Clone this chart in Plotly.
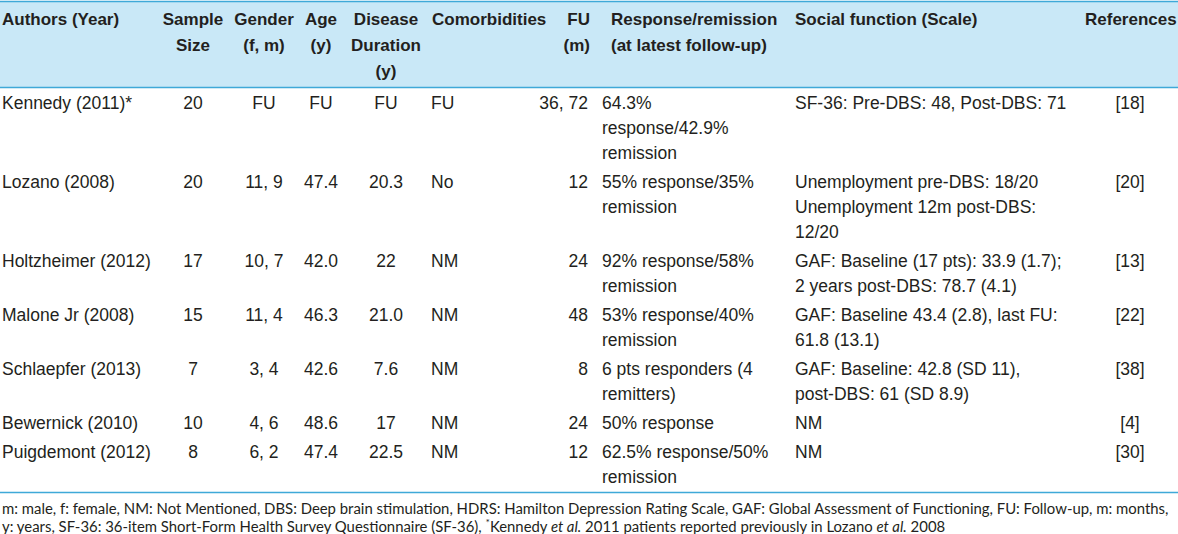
import plotly.graph_objects as go

# ---- data ----
header_labels = [
    "Authors (Year)", "Sample<br>Size", "Gender<br>(f, m)", "Age<br>(y)",
    "Disease<br>Duration<br>(y)", "Comorbidities", "FU<br>(m)",
    "Response/remission<br>(at latest follow-up)", "Social function (Scale)", "References",
]
authors = ["Kennedy (2011)*", "Lozano (2008)", "Holtzheimer (2012)", "Malone Jr (2008)",
           "Schlaepfer (2013)", "Bewernick (2010)", "Puigdemont (2012)"]
sample_size = ["20", "20", "17", "15", "7", "10", "8"]
gender = ["FU", "11, 9", "10, 7", "11, 4", "3, 4", "4, 6", "6, 2"]
age = ["FU", "47.4", "42.0", "46.3", "42.6", "48.6", "47.4"]
duration = ["FU", "20.3", "22", "21.0", "7.6", "17", "22.5"]
comorbidities = ["FU", "No", "NM", "NM", "NM", "NM", "NM"]
follow_up = ["36, 72", "12", "24", "48", "8", "24", "12"]
response = [
    "64.3%<br>response/42.9%<br>remission",
    "55% response/35%<br>remission",
    "92% response/58%<br>remission",
    "53% response/40%<br>remission",
    "6 pts responders (4<br>remitters)",
    "50% response",
    "62.5% response/50%<br>remission",
]
social = [
    "SF-36: Pre-DBS: 48, Post-DBS: 71",
    "Unemployment pre-DBS: 18/20<br>Unemployment 12m post-DBS:<br>12/20",
    "GAF: Baseline (17 pts): 33.9 (1.7);<br>2 years post-DBS: 78.7 (4.1)",
    "GAF: Baseline 43.4 (2.8), last FU:<br>61.8 (13.1)",
    "GAF: Baseline: 42.8 (SD 11),<br>post-DBS: 61 (SD 8.9)",
    "NM",
    "NM",
]
references = ["[18]", "[20]", "[13]", "[22]", "[38]", "[4]", "[30]"]
footnote_lines = [
    "m: male, f: female, NM: Not Mentioned, DBS: Deep brain stimulation, HDRS: Hamilton Depression "
    "Rating Scale, GAF: Global Assessment of Functioning, FU: Follow-up, m: months,",
    "y: years, SF-36: 36-item Short-Form Health Survey Questionnaire (SF-36), <sup>*</sup>Kennedy "
    "<i>et al.</i> 2011 patients reported previously in Lozano <i>et al.</i> 2008",
]

columns = [authors, sample_size, gender, age, duration, comorbidities,
           follow_up, response, social, references]

# ---- layout / styling (pixel geometry of the table) ----
W, H = 1178, 534
HEAD_FILL = "#c9e8f7"
BLUE = "#3fa9d8"
TXT = "#231f20"
FONT = "Liberation Sans, Arial, sans-serif"
head_x = [2, 193, 264, 321, 386, 432, 590, 611, 795, 1085]
head_pos = ["middle right", "middle center", "middle center", "middle center", "middle center",
            "middle right", "middle left", "middle right", "middle right", "middle right"]
body_x = [2, 193, 264, 321, 386, 431, 588, 602, 795, 1130]
body_pos = ["middle right", "middle center", "middle center", "middle center", "middle center",
            "middle right", "middle left", "middle right", "middle right", "middle center"]
HEAD_Y0, HEAD_LH = 20.5, 26
BODY_Y0, BODY_LH, ROW_PAD = 105, 25, 4
LINE_TOP, LINE_HEAD, LINE_BOTTOM = 1.5, 87.5, 492.5

fig = go.Figure()

# header text
for lbl, x, pos in zip(header_labels, head_x, head_pos):
    lines = lbl.split("<br>")
    fig.add_trace(go.Scatter(
        x=[x] * len(lines), y=[HEAD_Y0 + j * HEAD_LH for j in range(len(lines))],
        text=[f"<b>{t}</b>" for t in lines], mode="text", textposition=pos,
        textfont=dict(family=FONT, size=17, color=TXT),
        hoverinfo="skip", showlegend=False, cliponaxis=False,
    ))

# row first-line positions from line counts
n_rows = len(authors)
row_lines = [max(len(col[r].split("<br>")) for col in columns) for r in range(n_rows)]
row_y = []
y = BODY_Y0
for n in row_lines:
    row_y.append(y)
    y += n * BODY_LH + ROW_PAD

# body text
for col, x, pos in zip(columns, body_x, body_pos):
    xs, ys, ts = [], [], []
    for r, cell in enumerate(col):
        for j, t in enumerate(cell.split("<br>")):
            xs.append(x)
            ys.append(row_y[r] + j * BODY_LH)
            ts.append(t)
    fig.add_trace(go.Scatter(
        x=xs, y=ys, text=ts, mode="text", textposition=pos,
        textfont=dict(family=FONT, size=17.5, color=TXT),
        hoverinfo="skip", showlegend=False, cliponaxis=False,
    ))

# header band and rules
fig.add_shape(type="rect", x0=0, x1=W, y0=LINE_TOP, y1=LINE_HEAD,
              fillcolor=HEAD_FILL, line_width=0, layer="below")
for yl in (LINE_TOP, LINE_HEAD, LINE_BOTTOM):
    fig.add_shape(type="line", x0=0, x1=W, y0=yl, y1=yl, line=dict(color=BLUE, width=1.6))

# footnote
for k, t in enumerate(footnote_lines):
    fig.add_annotation(text=t, x=0, y=508 + k * 17.5, xanchor="left", yanchor="middle",
                       showarrow=False, align="left",
                       font=dict(family="Lato, sans-serif", size=14.9, color=TXT))

fig.update_xaxes(range=[0, W], visible=False, fixedrange=True)
fig.update_yaxes(range=[H, 0], visible=False, fixedrange=True)
fig.update_layout(width=W, height=H, margin=dict(l=0, r=0, t=0, b=0),
                  paper_bgcolor="white", plot_bgcolor="white")
fig.write_html("out.html", config={"displayModeBar": False},
               post_script="document.body.style.margin='0';")
